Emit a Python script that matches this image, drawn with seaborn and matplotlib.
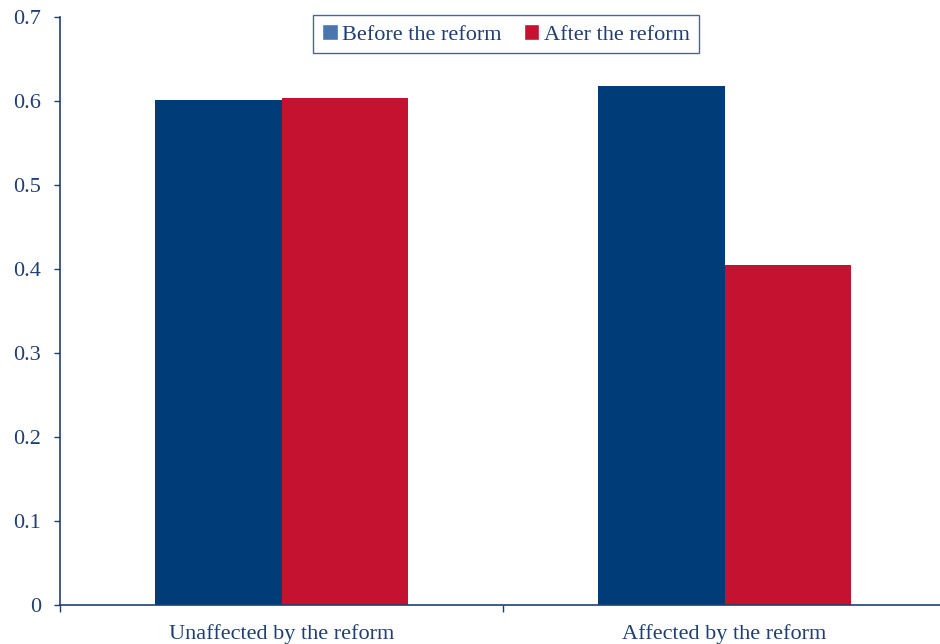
import pandas as pd
import seaborn as sns
import matplotlib.pyplot as plt
from matplotlib.patches import Patch

# Data
groups = ['Unaffected by the reform', 'Affected by the reform']
periods = ['Before the reform', 'After the reform']
before = [0.601, 0.618]
after = [0.604, 0.405]

df = pd.DataFrame({
    'group': groups * 2,
    'period': [periods[0]] * 2 + [periods[1]] * 2,
    'share': before + after,
})

navy = '#003C78'
red = '#C41230'
text_col = '#1F3F73'

sns.set_style('white')
plt.rcParams['font.family'] = ['Liberation Serif', 'DejaVu Serif']

fig = plt.figure(figsize=(9.4, 6.44), dpi=100)
ax = fig.add_axes([60 / 940, 1 - 605 / 644, 886 / 940, 588 / 644])

sns.barplot(data=df, x='group', y='share', hue='period', order=groups,
            hue_order=periods, palette=[navy, red], width=0.571,
            saturation=1, linewidth=0, ax=ax, legend=False)

ax.set_ylim(0, 0.7)
ax.set_xlim(-0.5, 1.5)
ax.set_yticks([0, 0.1, 0.2, 0.3, 0.4, 0.5, 0.6, 0.7])
ax.set_yticklabels(['0', '0.1', '0.2', '0.3', '0.4', '0.5', '0.6', '0.7'])
ax.set_xticks([0, 1])
ax.set_xticklabels(groups)
ax.tick_params(axis='x', length=0, pad=14, labelsize=16, labelcolor=text_col)
ax.tick_params(axis='y', left=True, length=4.5, width=1, color=text_col,
               labelsize=16, labelcolor=text_col, pad=9)
# category divider ticks on the x axis
ax.set_xticks([-0.5, 0.5, 1.5], minor=True)
ax.tick_params(axis='x', which='minor', bottom=True, length=5, width=1,
               color=text_col, direction='out')
ax.set_xlabel('')
ax.set_ylabel('')

for side in ['top', 'right']:
    ax.spines[side].set_visible(False)
for side in ['left', 'bottom']:
    ax.spines[side].set_color(text_col)
    ax.spines[side].set_linewidth(1.2)

handles = [Patch(facecolor='#4A76AD', label=periods[0]),
           Patch(facecolor=red, label=periods[1])]
leg = fig.legend(handles=handles, loc='upper center', ncol=2,
                 bbox_to_anchor=(506 / 940, 1 - 4 / 644), frameon=True,
                 fancybox=False, fontsize=16, handlelength=0.7,
                 handleheight=0.7, handletextpad=0.2, columnspacing=1.0,
                 borderpad=0.4, labelcolor=text_col)
leg.get_frame().set_edgecolor(text_col)
leg.get_frame().set_linewidth(1.0)

plt.savefig('out.png', dpi=100)
